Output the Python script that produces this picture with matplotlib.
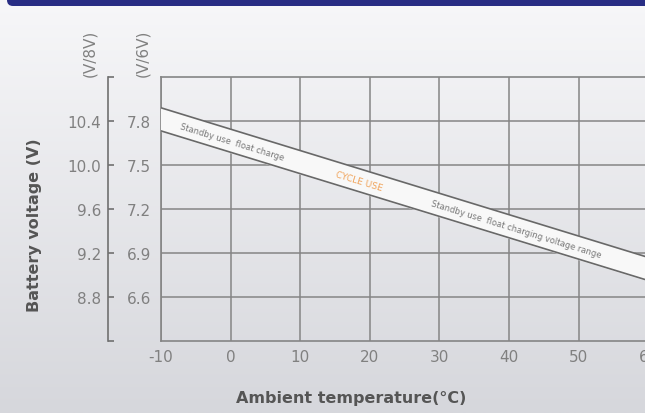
import numpy as np
import matplotlib
matplotlib.use("Agg")
import matplotlib.pyplot as plt
from matplotlib.patches import FancyBboxPatch

plt.rcParams["axes.unicode_minus"] = False

# ---- data (8 V scale, 6 V scale is x0.75) ----
temps = [-10, 60]
upper_8v = [10.52, 9.16]
lower_8v = [10.31, 8.95]
temp_ticks = [-10, 0, 10, 20, 30, 40, 50, 60]
volt_8v = [8.8, 9.2, 9.6, 10.0, 10.4]
volt_6v = [6.6, 6.9, 7.2, 7.5, 7.8]
ylim_8v = (8.4, 10.8)
ylim_6v = (6.3, 8.1)

W, H = 645, 414
fig = plt.figure(figsize=(W / 100, H / 100), dpi=100)

# background gradient + header strip
bg = fig.add_axes([0, 0, 1, 1], zorder=-10)
c_top = np.array([247, 247, 249]) / 255
c_bot = np.array([214, 215, 220]) / 255
t = np.linspace(0, 1, 256)[:, None]
grad = c_top + (c_bot - c_top) * t
bg.imshow(grad[:, None, :], aspect="auto", extent=[0, W, 0, H])
bg.add_patch(FancyBboxPatch((7, H - 7), W + 20, 20, boxstyle="round,pad=0,rounding_size=6",
                            fc="#282d84", ec="none"))
bg.set_xlim(0, W); bg.set_ylim(0, H); bg.axis("off")

# main plot box
bottom, height = (H - 342) / H, 264 / H
ax = fig.add_axes([161 / W, bottom, 522 / W, height])
ax.patch.set_alpha(0)
ax.set_xlim(-10, 65)
ax.set_ylim(*ylim_8v)
ax.set_xticks(temp_ticks)
ax.set_yticks(volt_8v)
ax.grid(True, color="#858585", lw=1.1)
ax.tick_params(axis="y", left=False, labelleft=False)
ax.tick_params(axis="x", length=0, pad=6, labelsize=11, labelcolor="#808080")
for s in ["left", "top", "bottom"]:
    ax.spines[s].set_color("#858585"); ax.spines[s].set_linewidth(1.2)
ax.spines["right"].set_visible(False)

# voltage band
ax.fill_between(temps, lower_8v, upper_8v, color="#f8f8f8", zorder=3)
ax.plot(temps, upper_8v, color="#686868", lw=1.2, zorder=4)
ax.plot(temps, lower_8v, color="#686868", lw=1.2, zorder=4)

mid = [(a + b) / 2 for a, b in zip(upper_8v, lower_8v)]
p1 = ax.transData.transform((temps[0], mid[0]))
p2 = ax.transData.transform((temps[1], mid[1]))
ang = np.degrees(np.arctan2(p2[1] - p1[1], p2[0] - p1[0]))
def band_text(x, s, color, size):
    ax.text(x, np.interp(x, temps, mid), s, rotation=ang, rotation_mode="anchor",
            ha="center", va="center", fontsize=size, color=color, zorder=5)
band_text(0.2, "Standby use  float charge", "#777777", 6)
band_text(18.5, "CYCLE USE", "#f0a35a", 6.5)
band_text(41, "Standby use  float charging voltage range", "#777777", 6)

# outer axis spine with 8 V labels
ax2 = fig.add_axes([108 / W, bottom, 1 / W, height])
ax2.patch.set_alpha(0)
for s in ["right", "top", "bottom"]:
    ax2.spines[s].set_visible(False)
ax2.spines["left"].set_color("#707070"); ax2.spines["left"].set_linewidth(1.2)
ax2.set_ylim(*ylim_8v)
ax2.set_yticks([ylim_8v[0]] + volt_8v + [ylim_8v[1]],
               [""] + [f"{v:.1f}" for v in volt_8v] + [""])
ax2.set_xticks([])
ax2.tick_params(axis="y", direction="in", length=4, width=1.2, color="#707070",
                pad=5, labelsize=11, labelcolor="#808080")

# 6 V labels
ax3 = fig.add_axes([151 / W, bottom, 1 / W, height])
ax3.patch.set_alpha(0)
for s in ax3.spines.values():
    s.set_visible(False)
ax3.set_ylim(*ylim_6v)
ax3.set_yticks(volt_6v, [f"{v:.1f}" for v in volt_6v])
ax3.set_xticks([])
ax3.tick_params(axis="y", length=0, pad=0, labelsize=11, labelcolor="#808080")

fig.text(35 / W, 1 - 225 / H, "Battery voltage (V)", rotation=90, ha="center", va="center",
         fontsize=11.5, fontweight="bold", color="#555555")
fig.text(90 / W, 1 - 53 / H, "(V/8V)", rotation=90, ha="center", va="center",
         fontsize=11, color="#808080")
fig.text(143 / W, 1 - 53 / H, "(V/6V)", rotation=90, ha="center", va="center",
         fontsize=11, color="#808080")
fig.text(351 / W, 1 - 399 / H, "Ambient temperature(°C)", ha="center", va="center",
         fontsize=11.5, fontweight="bold", color="#555555")

fig.savefig("out.png", dpi=100)
